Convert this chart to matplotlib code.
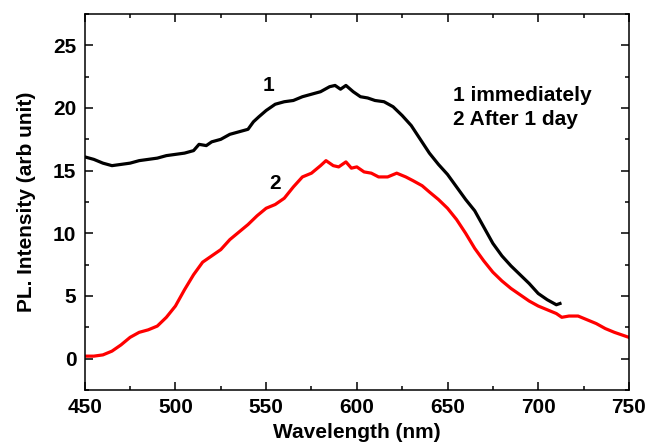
import matplotlib
matplotlib.use('Agg')
import matplotlib.pyplot as plt
from matplotlib.ticker import MultipleLocator

plt.rcParams['font.family'] = ['Liberation Sans', 'DejaVu Sans']
plt.rcParams['font.weight'] = 'bold'

# curve 1: measured immediately
wl_1 = [450, 455, 460, 465, 470, 475, 480, 485, 490, 495, 500, 505, 510, 513, 517,
        520, 525, 530, 535, 540, 543, 546, 550, 555, 560, 565, 570, 575, 580, 585,
        588, 591, 594, 598, 602, 606, 610, 615, 620, 625, 630, 635, 640, 645, 650,
        655, 660, 665, 670, 675, 680, 685, 690, 695, 700, 705, 710, 712]
pl_1 = [16.1, 15.9, 15.6, 15.4, 15.5, 15.6, 15.8, 15.9, 16.0, 16.2, 16.3, 16.4, 16.6, 17.1, 17.0,
        17.3, 17.5, 17.9, 18.1, 18.3, 18.9, 19.3, 19.8, 20.3, 20.5, 20.6, 20.9, 21.1, 21.3, 21.7,
        21.8, 21.5, 21.8, 21.3, 20.9, 20.8, 20.6, 20.5, 20.1, 19.4, 18.6, 17.5, 16.4, 15.5, 14.7,
        13.7, 12.7, 11.8, 10.5, 9.2, 8.2, 7.4, 6.7, 6.0, 5.2, 4.7, 4.3, 4.4]

# curve 2: after 1 day
wl_2 = [450, 455, 460, 465, 470, 475, 480, 485, 490, 495, 500, 505, 510, 515, 520,
        525, 530, 535, 540, 545, 550, 555, 560, 565, 570, 575, 580, 583, 587, 590,
        594, 597, 600, 604, 608, 612, 617, 622, 627, 631, 636, 640, 645, 650, 655,
        660, 665, 670, 675, 680, 685, 690, 695, 700, 705, 710, 713, 717, 722, 727,
        732, 737, 742, 746, 750]
pl_2 = [0.2, 0.2, 0.3, 0.6, 1.1, 1.7, 2.1, 2.3, 2.6, 3.3, 4.2, 5.5, 6.7, 7.7, 8.2,
        8.7, 9.5, 10.1, 10.7, 11.4, 12.0, 12.3, 12.8, 13.7, 14.5, 14.8, 15.4, 15.8, 15.4, 15.3,
        15.7, 15.2, 15.3, 14.9, 14.8, 14.5, 14.5, 14.8, 14.5, 14.2, 13.8, 13.3, 12.7, 12.0, 11.1,
        10.0, 8.8, 7.8, 6.9, 6.2, 5.6, 5.1, 4.6, 4.2, 3.9, 3.6, 3.3, 3.4, 3.4, 3.1,
        2.8, 2.4, 2.1, 1.9, 1.7]

legend_lines = ['1 immediately', '2 After 1 day']

fig = plt.figure(figsize=(6.47, 4.46), dpi=100)
ax = fig.add_axes([0.131, 0.1256, 0.841, 0.843])

ax.plot(wl_1, pl_1, color='black', lw=2.3)
ax.plot(wl_2, pl_2, color='red', lw=2.3)

ax.set_xlim(450, 750)
ax.set_ylim(-2.5, 27.5)
ax.xaxis.set_major_locator(MultipleLocator(50))
ax.xaxis.set_minor_locator(MultipleLocator(25))
ax.yaxis.set_major_locator(MultipleLocator(5))
ax.yaxis.set_minor_locator(MultipleLocator(2.5))
ax.tick_params(which='both', direction='in', top=True, right=True, width=1.1)
ax.tick_params(which='major', length=6, labelsize=15, pad=6)
ax.tick_params(which='minor', length=3)
for sp in ax.spines.values():
    sp.set_linewidth(1.1)

ax.set_xlabel('Wavelength (nm)', fontsize=15, fontweight='bold', labelpad=4)
ax.set_ylabel('PL. Intensity (arb unit)', fontsize=15, fontweight='bold', labelpad=12)

ax.text(551.5, 21.8, '1', fontsize=15, fontweight='bold', ha='center', va='center')
ax.text(555, 14.0, '2', fontsize=15, fontweight='bold', ha='center', va='center')
ax.text(653, 21.0, legend_lines[0], fontsize=15, fontweight='bold', ha='left', va='center')
ax.text(653, 19.1, legend_lines[1], fontsize=15, fontweight='bold', ha='left', va='center')

fig.savefig('out.png', dpi=100)
